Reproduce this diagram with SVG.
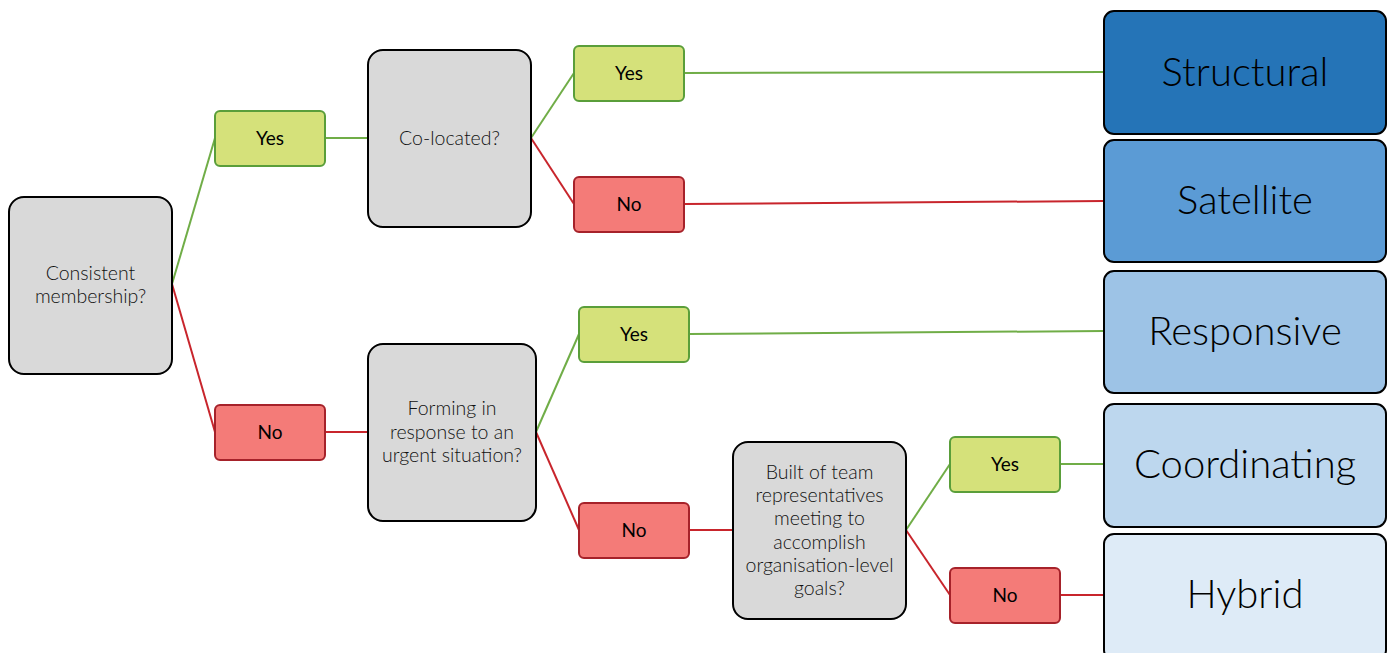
<svg xmlns="http://www.w3.org/2000/svg" width="1390" height="653" viewBox="0 0 1390 653">
<style>
.q{fill:#d9d9d9;stroke:#000;stroke-width:2}
.y{fill:#d5e17a;stroke:#5a9e3a;stroke-width:2}
.n{fill:#f47b78;stroke:#a6222a;stroke-width:2}
.r{stroke:#000;stroke-width:2}
.qt{font-family:Lato,"Open Sans",sans-serif;font-size:19.5px;fill:#111;text-anchor:middle;font-weight:300}
.bt{font-family:Lato,"Open Sans",sans-serif;font-size:19px;fill:#000;text-anchor:middle}
.rt{font-family:Lato,"Open Sans",sans-serif;font-size:40px;fill:#000;text-anchor:middle;font-weight:300}
.g{stroke:#70ad47;stroke-width:2;fill:none}
.d{stroke:#c8252c;stroke-width:2;fill:none}
</style>
<g id="connectors">
<line class="g" x1="172" y1="284" x2="215" y2="138"/>
<line class="d" x1="172" y1="284" x2="215" y2="432"/>
<line class="g" x1="325" y1="138" x2="368" y2="138"/>
<line class="d" x1="325" y1="432" x2="368" y2="432"/>
<line class="g" x1="531" y1="138" x2="574" y2="73"/>
<line class="d" x1="531" y1="138" x2="574" y2="204"/>
<line class="g" x1="684" y1="73" x2="1104" y2="72"/>
<line class="d" x1="684" y1="204" x2="1104" y2="201"/>
<line class="g" x1="536" y1="432" x2="579" y2="334"/>
<line class="d" x1="536" y1="432" x2="579" y2="530"/>
<line class="g" x1="689" y1="334" x2="1104" y2="331"/>
<line class="d" x1="689" y1="530" x2="733" y2="530"/>
<line class="g" x1="906" y1="530" x2="950" y2="464"/>
<line class="d" x1="906" y1="530" x2="950" y2="595"/>
<line class="g" x1="1060" y1="464" x2="1104" y2="464"/>
<line class="d" x1="1060" y1="595" x2="1104" y2="595"/>
</g>
<g id="q1"><rect class="q" x="9" y="197" width="163" height="177" rx="15"/>
<text class="qt" x="90.5" y="280">Consistent</text><text class="qt" x="90.5" y="303">membership?</text></g>
<g id="yes1"><rect class="y" x="215" y="111" width="110" height="55" rx="5"/><text class="bt" x="270" y="145">Yes</text></g>
<g id="no1"><rect class="n" x="215" y="405" width="110" height="55" rx="5"/><text class="bt" x="270" y="439">No</text></g>
<g id="q2"><rect class="q" x="368" y="50" width="163" height="177" rx="15"/><text class="qt" x="449.5" y="145">Co-located?</text></g>
<g id="yes2"><rect class="y" x="574" y="46" width="110" height="55" rx="5"/><text class="bt" x="629" y="80">Yes</text></g>
<g id="no2"><rect class="n" x="574" y="177" width="110" height="55" rx="5"/><text class="bt" x="629" y="211">No</text></g>
<g id="q3"><rect class="q" x="368" y="344" width="168" height="177" rx="15"/>
<text class="qt" x="452" y="415">Forming in</text><text class="qt" x="452" y="439">response to an</text><text class="qt" x="452" y="462">urgent situation?</text></g>
<g id="yes3"><rect class="y" x="579" y="307" width="110" height="55" rx="5"/><text class="bt" x="634" y="341">Yes</text></g>
<g id="no3"><rect class="n" x="579" y="503" width="110" height="55" rx="5"/><text class="bt" x="634" y="537">No</text></g>
<g id="q4"><rect class="q" x="733" y="442" width="173" height="177" rx="15"/>
<text class="qt" x="819.5" y="479">Built of team</text><text class="qt" x="819.5" y="502">representatives</text><text class="qt" x="819.5" y="525">meeting to</text><text class="qt" x="819.5" y="549">accomplish</text><text class="qt" x="819.5" y="572">organisation-level</text><text class="qt" x="819.5" y="595">goals?</text></g>
<g id="yes4"><rect class="y" x="950" y="437" width="110" height="55" rx="5"/><text class="bt" x="1005" y="471">Yes</text></g>
<g id="no4"><rect class="n" x="950" y="568" width="110" height="55" rx="5"/><text class="bt" x="1005" y="602">No</text></g>
<g id="structural"><rect class="r" x="1104" y="11" width="282" height="123" rx="10" fill="#2574b7"/><text class="rt" x="1245" y="86">Structural</text></g>
<g id="satellite"><rect class="r" x="1104" y="140" width="282" height="122" rx="10" fill="#5b9bd5"/><text class="rt" x="1245" y="214">Satellite</text></g>
<g id="responsive"><rect class="r" x="1104" y="271" width="282" height="122" rx="10" fill="#9dc3e6"/><text class="rt" x="1245" y="345">Responsive</text></g>
<g id="coordinating"><rect class="r" x="1104" y="404" width="282" height="123" rx="10" fill="#bdd7ee"/><text class="rt" x="1245" y="478">Coordinating</text></g>
<g id="hybrid"><rect class="r" x="1104" y="534" width="282" height="126" rx="10" fill="#deebf7"/><text class="rt" x="1245" y="608">Hybrid</text></g>
</svg>
